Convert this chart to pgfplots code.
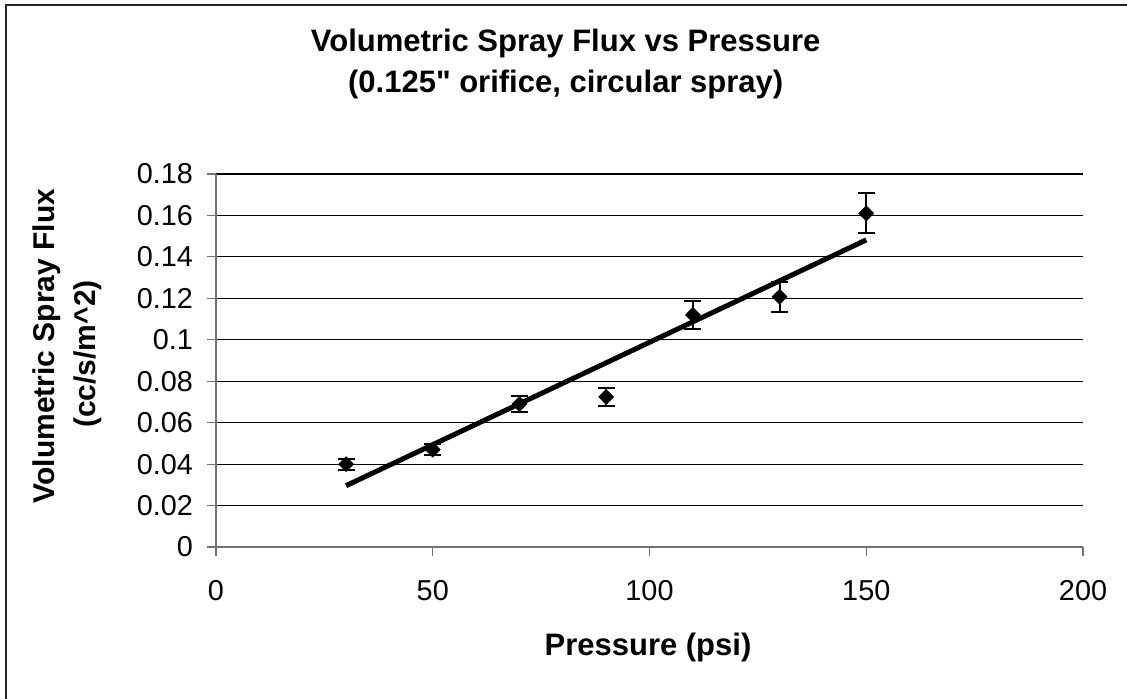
\documentclass[border=0pt]{standalone}
\usepackage{fontspec}
\setmainfont{Liberation Sans}[Ligatures=TeXOff]
\usepackage{pgfplots}
\pgfplotsset{compat=1.18}
\begin{document}
\begin{tikzpicture}
\begin{axis}[
  at={(0,0)}, anchor=south west,
  scale only axis,
  width=433.5pt, height=186.5pt,
  xmin=0, xmax=200, ymin=0, ymax=0.18,
  xtick={0,50,100,150,200},
  ytick={0,0.02,0.04,0.06,0.08,0.1,0.12,0.14,0.16,0.18},
  yticklabels={0,0.02,0.04,0.06,0.08,0.1,0.12,0.14,0.16,0.18},
  axis x line*=bottom, axis y line*=left,
  axis line style={gray!90!black, line width=0.6pt},
  tick style={gray!90!black, line width=0.6pt},
  tick align=outside, major tick length=4.5pt,
  ymajorgrids, grid style={black, line width=0.6pt},
  /pgf/number format/assume math mode=true,
  tick label style={font=\fontsize{14.4}{16}\selectfont},
  xticklabel style={yshift=-8.5pt},
  yticklabel style={xshift=-3.5pt},
  clip=false,
]
\addplot[only marks, mark=square*, mark size=2.6pt, mark options={rotate=45, fill=black, draw=black},
  error bars/.cd, y dir=both, y explicit,
  error bar style={line width=1pt, black},
  error mark options={rotate=90, line width=1pt, mark size=4.25pt, black}]
coordinates {
  (30,0.040) +- (0,0.0027)
  (50,0.047) +- (0,0.0028)
  (70,0.069) +- (0,0.0040)
  (90,0.0724) +- (0,0.0044)
  (110,0.112) +- (0,0.0069)
  (130,0.1208) +- (0,0.0072)
  (150,0.161) +- (0,0.0096)
};
\addplot[black, line width=2.5pt, no marks] coordinates {(30,0.0296) (150,0.1482)};
\end{axis}
\node[anchor=base, font=\bfseries\fontsize{15.5}{18}\selectfont] at (174.85pt,247.65pt) {Volumetric Spray Flux vs Pressure};
\node[anchor=base, font=\bfseries\fontsize{15.5}{18}\selectfont] at (174.85pt,227.15pt) {(0.125" orifice, circular spray)};
\node[anchor=base, rotate=90, font=\bfseries\fontsize{15}{18}\selectfont] at (-80.5pt,100.5pt) {Volumetric Spray Flux};
\node[anchor=base, rotate=90, font=\bfseries\fontsize{15}{18}\selectfont] at (-60pt,96.5pt) {(cc/s/m\^{}2)};
\node[anchor=base, font=\bfseries\fontsize{15.5}{18}\selectfont] at (216pt,-54pt) {Pressure (psi)};
\draw[black!85, line width=1pt] (-105pt,-80pt) -- (-105pt,271pt) -- (460pt,271pt);
\pgfresetboundingbox
\path[use as bounding box] (-108pt,-75.5pt) rectangle (455.5pt,273.5pt);
\end{tikzpicture}
\end{document}
